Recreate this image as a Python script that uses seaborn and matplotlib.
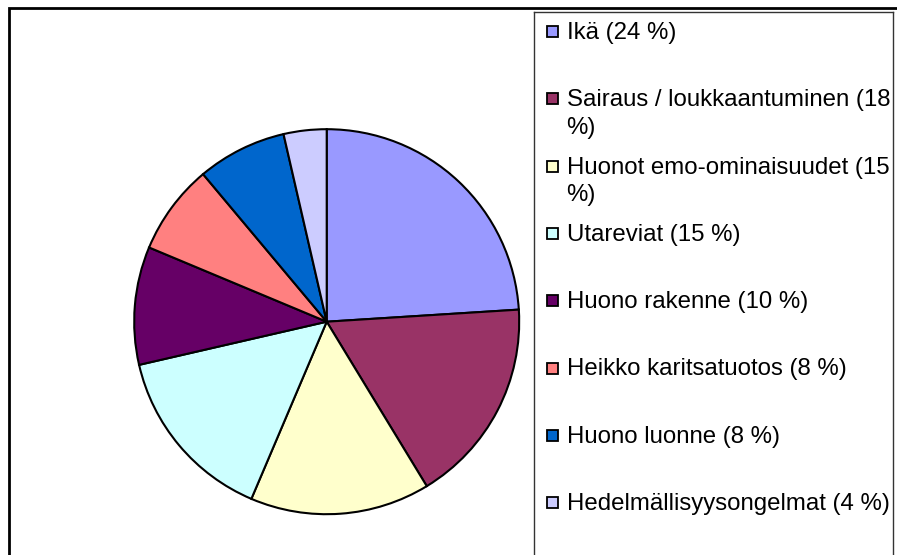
import matplotlib
matplotlib.use("Agg")
import matplotlib.pyplot as plt
import seaborn as sns
from matplotlib.patches import Rectangle

categories = ["Ikä", "Sairaus / loukkaantuminen", "Huonot emo-ominaisuudet", "Utareviat",
              "Huono rakenne", "Heikko karitsatuotos", "Huono luonne", "Hedelmällisyysongelmat"]
shares = [24.0, 17.3, 15.1, 15.0, 9.9, 7.6, 7.5, 3.6]
legend_labels = ["Ikä (24 %)", "Sairaus / loukkaantuminen (18\n%)", "Huonot emo-ominaisuudet (15\n%)",
                 "Utareviat (15 %)", "Huono rakenne (10 %)", "Heikko karitsatuotos (8 %)",
                 "Huono luonne (8 %)", "Hedelmällisyysongelmat (4 %)"]
colors = ["#9999FF", "#993366", "#FFFFCC", "#CCFFFF", "#660066", "#FF8080", "#0066CC", "#CCCCFF"]

sns.set_theme(style="white")
plt.rcParams['font.family'] = ['Liberation Sans', 'DejaVu Sans']
palette = sns.color_palette(colors)

W, H = 897, 555
fig = plt.figure(figsize=(W / 100, H / 100), dpi=100)

def px_axes(x0, y0, w, h):
    return fig.add_axes([x0 / W, 1 - (y0 + h) / H, w / W, h / H])

# outer chart border
fig.patches.append(Rectangle((9 / W, -0.1), 1.2, 1 - 8 / H + 0.1, transform=fig.transFigure,
                             fill=False, edgecolor="black", linewidth=2))

# pie
cx, cy, r = 326.7, 321.7, 192.5
ax = px_axes(cx - r, cy - r, 2 * r, 2 * r)
ax.pie(shares, colors=palette, startangle=90, counterclock=False, radius=1,
       wedgeprops=dict(edgecolor="black", linewidth=1.5))
ax.set_xlim(-1, 1)
ax.set_ylim(-1, 1)
ax.set_aspect("equal")
ax.axis("off")

# legend box
lax = px_axes(534, 12, 359, 560)
lax.set_xlim(0, 359)
lax.set_ylim(560, 0)
lax.set_xticks([])
lax.set_yticks([])
for s in lax.spines.values():
    s.set_color("#333333")
    s.set_linewidth(1)

for i, (lab, c) in enumerate(zip(legend_labels, palette)):
    y = 19.5 + i * 67.3
    lax.add_patch(Rectangle((13, y - 5.5), 11, 11, facecolor=c, edgecolor="black", linewidth=1.3))
    lax.text(32.5, y - 9.5, lab, fontsize=17.3, va="top", ha="left",
             linespacing=1.33, color="black")

fig.savefig("out.png", dpi=100)
